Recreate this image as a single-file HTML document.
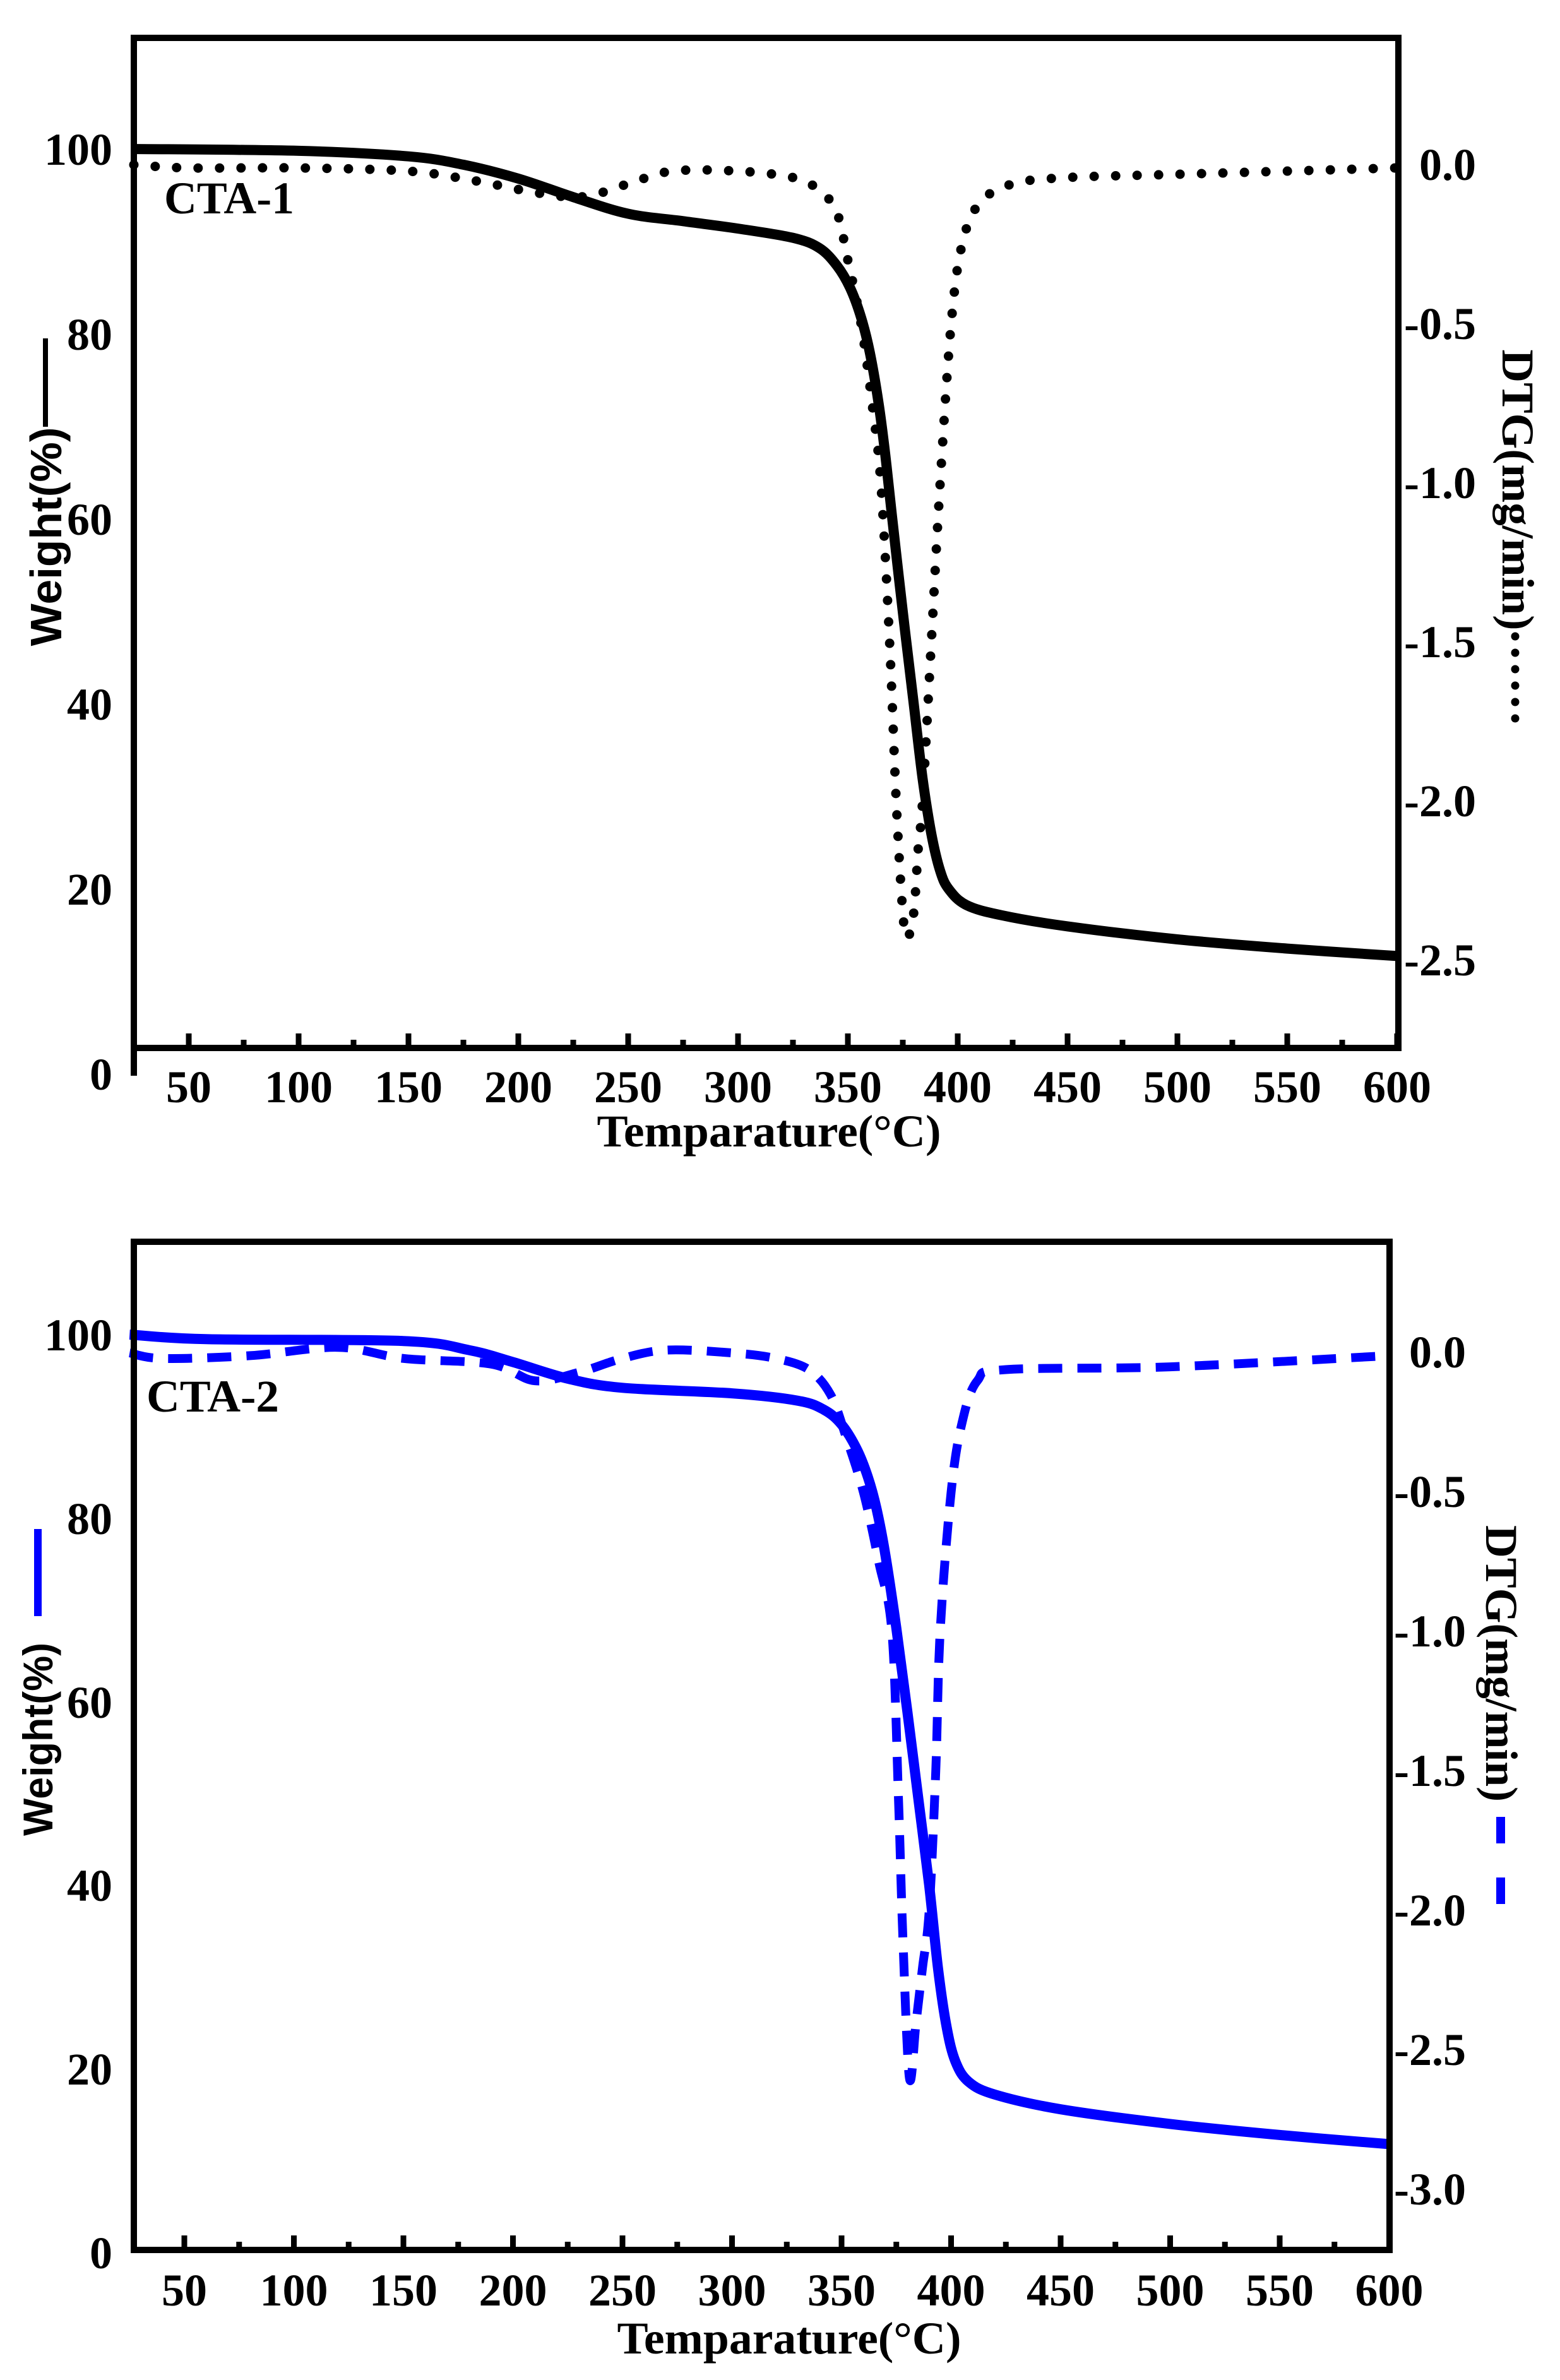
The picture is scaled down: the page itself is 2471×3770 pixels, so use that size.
<!DOCTYPE html>
<html><head><meta charset="utf-8"><style>
html,body{margin:0;padding:0;background:#fff}
svg{display:block}
.t{font-family:"Liberation Serif",serif;font-weight:bold;font-size:72px}
</style></head><body>
<svg id="s" width="2471" height="3770" viewBox="0 0 2471 3770" xmlns="http://www.w3.org/2000/svg">
<rect width="2471" height="3770" fill="#fff"/>
<g id="g1"></g>
<g id="g2"></g>
<g stroke="#000" stroke-width="10" fill="none">
<line x1="212" y1="60" x2="2215" y2="60"/>
<line x1="212" y1="55" x2="212" y2="1704"/>
<line x1="2215" y1="55" x2="2215" y2="1665"/>
<line x1="207" y1="1660" x2="2220" y2="1660"/>
</g>
<g stroke="#000" stroke-width="10" fill="none">
<line x1="212" y1="1967" x2="2201" y2="1967"/>
<line x1="212" y1="1962" x2="212" y2="3569"/>
<line x1="2201" y1="1962" x2="2201" y2="3569"/>
<line x1="207" y1="3564" x2="2206" y2="3564"/>
</g>
<g id="ticks" stroke="#000" stroke-width="9"></g>
<g class="t" text-anchor="end">
<text x="178" y="261">100</text><text x="178" y="554">80</text><text x="178" y="847">60</text>
<text x="178" y="1140">40</text><text x="178" y="1433">20</text><text x="178" y="1726">0</text>
</g>
<g class="t" text-anchor="end">
<text x="2338" y="285">0.0</text><text x="2338" y="537">-0.5</text><text x="2338" y="789">-1.0</text>
<text x="2338" y="1041">-1.5</text><text x="2338" y="1293">-2.0</text><text x="2338" y="1545">-2.5</text>
</g>
<g class="t" text-anchor="middle" id="xl1"></g>
<text class="t" x="1218" y="1816" text-anchor="middle" font-size="80" textLength="545" lengthAdjust="spacingAndGlyphs">Temparature(°C)</text>
<text class="t" x="260" y="338" font-size="66" textLength="206" lengthAdjust="spacingAndGlyphs">CTA-1</text>
<text x="97" y="850" transform="rotate(-90 97 850)" text-anchor="middle" font-family="Liberation Sans,sans-serif" font-weight="bold" font-size="70" textLength="347" lengthAdjust="spacingAndGlyphs">Weight(%)</text>
<line x1="72" y1="536" x2="72" y2="676" stroke="#000" stroke-width="8"/>
<text class="t" x="2380" y="776" transform="rotate(90 2380 776)" text-anchor="middle" font-size="72" textLength="445" lengthAdjust="spacingAndGlyphs">DTG(mg/min)</text>
<line x1="2400" y1="1008" x2="2400" y2="1139" stroke="#000" stroke-width="13" stroke-linecap="round" stroke-dasharray="0 26"/>
<g class="t" text-anchor="end">
<text x="178" y="2139">100</text><text x="178" y="2430">80</text><text x="178" y="2721">60</text>
<text x="178" y="3011">40</text><text x="178" y="3302">20</text><text x="178" y="3593">0</text>
</g>
<g class="t" text-anchor="end">
<text x="2322" y="2166">0.0</text><text x="2322" y="2387">-0.5</text><text x="2322" y="2608">-1.0</text>
<text x="2322" y="2829">-1.5</text><text x="2322" y="3050">-2.0</text><text x="2322" y="3271">-2.5</text><text x="2322" y="3492">-3.0</text>
</g>
<g class="t" text-anchor="middle" id="xl2"></g>
<text class="t" x="1250" y="3728" text-anchor="middle" font-size="80" textLength="545" lengthAdjust="spacingAndGlyphs">Temparature(°C)</text>
<text class="t" x="232" y="2236" font-size="66" textLength="210" lengthAdjust="spacingAndGlyphs">CTA-2</text>
<text x="83" y="2755" transform="rotate(-90 83 2755)" text-anchor="middle" font-family="Liberation Sans,sans-serif" font-weight="bold" font-size="66" textLength="306" lengthAdjust="spacingAndGlyphs">Weight(%)</text>
<line x1="60" y1="2422" x2="60" y2="2560" stroke="#0000ff" stroke-width="12"/>
<text class="t" x="2354" y="2635" transform="rotate(90 2354 2635)" text-anchor="middle" font-size="72" textLength="438" lengthAdjust="spacingAndGlyphs">DTG(mg/min)</text>
<line x1="2377" y1="2878" x2="2377" y2="3016" stroke="#0000ff" stroke-width="14" stroke-dasharray="42 54"/>
</svg>
<script>
(function(){
var NS="http://www.w3.org/2000/svg";
function el(p,n,a,txt){var e=document.createElementNS(NS,n);for(var k in a)e.setAttribute(k,a[k]);if(txt)e.textContent=txt;p.appendChild(e);return e;}
function path(pts){var d="M"+pts[0][0].toFixed(1)+" "+pts[0][1].toFixed(1);
for(var i=0;i<pts.length-1;i++){var p0=pts[Math.max(i-1,0)],p1=pts[i],p2=pts[i+1],p3=pts[Math.min(i+2,pts.length-1)];
var c1=[p1[0]+(p2[0]-p0[0])/6,p1[1]+(p2[1]-p0[1])/6],c2=[p2[0]-(p3[0]-p1[0])/6,p2[1]-(p3[1]-p1[1])/6];
d+=" C"+c1[0].toFixed(1)+" "+c1[1].toFixed(1)+" "+c2[0].toFixed(1)+" "+c2[1].toFixed(1)+" "+p2[0].toFixed(1)+" "+p2[1].toFixed(1);}
return d;}
var W1=[[25,100],[100,99.8],[150,99.2],[175,98.3],[200,96.8],[225,94.8],[250,93],[275,92.2],[300,91.4],[325,90.4],[337,89.3],[345,87.4],[351,85],[356,81.8],[360,78],[364,72.5],[367,67],[370,60.5],[375,50],[380,40],[384,32],[388,26],[392,22],[396,20],[404,18.3],[420,17.2],[450,16],[500,14.6],[550,13.6],[600,12.8]];
var D1=[[25,0.0],[50,-0.01],[100,-0.01],[150,-0.02],[180,-0.05],[210,-0.09],[230,-0.1],[250,-0.06],[270,-0.02],[300,-0.02],[325,-0.04],[337,-0.08],[345,-0.15],[350,-0.3],[356,-0.5],[361,-0.75],[365,-1.0],[369,-1.5],[372,-2.0],[375,-2.35],[377,-2.43],[380,-2.35],[382,-2.15],[384,-2.0],[388,-1.5],[392,-1.0],[397,-0.5],[402,-0.25],[410,-0.12],[425,-0.06],[450,-0.04],[500,-0.03],[600,-0.01]];
var W2=[[25,100],[60,99.5],[150,99.3],[180,98.3],[200,97],[225,95.2],[250,94.2],[300,93.6],[330,92.8],[342,91.8],[350,90.2],[357,87.5],[362,84.5],[366,81],[370,76],[375,68],[380,59],[385,49.5],[390,40],[394,31],[398,24.5],[402,20.8],[408,18.6],[420,17.2],[450,15.6],[500,14],[550,12.8],[600,11.8]];
var D2=[[25,0.0],[40,-0.02],[80,-0.01],[120,0.02],[150,-0.02],[190,-0.04],[210,-0.1],[230,-0.07],[250,-0.02],[270,0.01],[300,0.0],[320,-0.02],[335,-0.06],[345,-0.15],[352,-0.3],[360,-0.5],[367,-0.75],[373,-1.0],[376,-1.6],[378,-2.1],[381,-2.6],[384,-2.4],[387,-2.2],[390,-2.0],[393,-1.5],[395,-1.0],[400,-0.5],[405,-0.25],[412,-0.1],[425,-0.06],[500,-0.05],[600,-0.01]];
function x1(t){return 299+(t-50)*3.48;} function x2(t){return 292+(t-50)*3.47;}
var g1=document.getElementById("g1"),g2=document.getElementById("g2");
el(g1,"path",{d:path(D1.map(function(p){return[x1(p[0]),261-p[1]*504];})),fill:"none",stroke:"#000","stroke-width":15,"stroke-linecap":"round","stroke-dasharray":"0 34"});
el(g1,"path",{d:path(W1.map(function(p){return[x1(p[0]),1702-p[1]*14.66];})),fill:"none",stroke:"#000","stroke-width":16});
el(g2,"path",{d:path(D2.map(function(p){return[x2(p[0]),2143-p[1]*442];})),fill:"none",stroke:"#0000ff","stroke-width":14,"stroke-dasharray":"38 24"});
el(g2,"path",{d:path(W2.map(function(p){return[x2(p[0]),3568-p[1]*14.54];})),fill:"none",stroke:"#0000ff","stroke-width":16});
var tk=document.getElementById("ticks"),l1=document.getElementById("xl1"),l2=document.getElementById("xl2");
for(var t=50;t<=600;t+=25){var maj=t%50==0;
var a=x1(t);el(tk,"line",{x1:a,y1:1660,x2:a,y2:maj?1637:1647});
var b=x2(t);el(tk,"line",{x1:b,y1:3564,x2:b,y2:maj?3541:3551});
if(maj){el(l1,"text",{x:a,y:1746},String(t));el(l2,"text",{x:b,y:3652},String(t));}}
})();
</script>
</body></html>
